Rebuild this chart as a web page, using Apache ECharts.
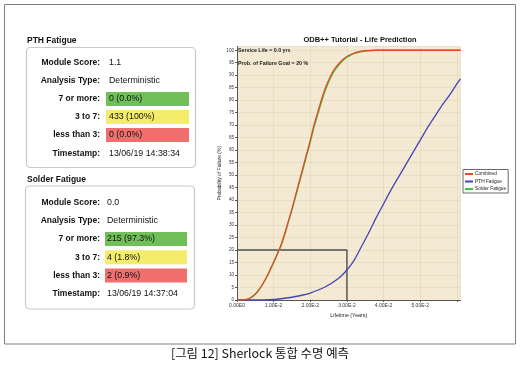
<!DOCTYPE html>
<html><head><meta charset="utf-8">
<script src="https://cdn.jsdelivr.net/npm/echarts@6/dist/echarts.min.js"></script>
<style>html,body{margin:0;padding:0;background:#fff}#c{width:520px;height:374px}</style>
</head><body><div id="c"></div>
<script>
// ---- data ----
const combinedX = [0,0.001,0.002,0.003,0.004,0.005,0.006,0.007,0.008,0.009,0.010,0.011,0.012,0.013,0.014,0.015,0.016,0.017,0.018,0.019,0.020,0.021,0.022,0.023,0.024,0.025,0.026,0.027,0.028,0.029,0.030,0.031,0.032,0.033,0.034,0.036,0.038,0.045,0.061];
const combinedY = [0,0,0.1,0.4,1.2,2.4,4.2,6.4,9,12,15.2,18.5,22,26.5,31.5,36.5,42,47.5,53,58.5,64,70,75,80,84.5,88,91,93.2,95,96.4,97.5,98.3,98.9,99.3,99.6,99.9,100,100,100];
const solderY   = [0,0,0.1,0.4,1.1,2.3,4.0,6.2,8.8,11.7,14.9,18.2,21.6,26,31,36,41.4,46.8,52.2,57.7,63.1,69,74,79,83.5,87.2,90.3,92.6,94.5,96,97.2,98,98.7,99.1,99.5,99.8,100,100,100];
const pthX = [0,0.005,0.010,0.012,0.014,0.016,0.018,0.020,0.022,0.024,0.026,0.028,0.030,0.032,0.034,0.036,0.038,0.040,0.042,0.044,0.046,0.048,0.050,0.052,0.054,0.056,0.058,0.060,0.061];
const pthY = [0,0,0.2,0.5,0.9,1.4,2,2.8,3.9,5.2,6.9,9,12,16,21.5,27,33,38.5,44,49,54,59,64,69,73.5,78,82,86.5,88.5];
const goalPath = [[0,20],[0.03,20],[0.03,0]];
const seriesNames = ['Combined','PTH Fatigue','Solder Fatigue'];
const pthRows = [['Module Score:','1.1'],['Analysis Type:','Deterministic'],['7 or more:','0 (0.0%)'],['3 to 7:','433 (100%)'],['less than 3:','0 (0.0%)'],['Timestamp:','13/06/19 14:38:34']];
const solderRows = [['Module Score:','0.0'],['Analysis Type:','Deterministic'],['7 or more:','215 (97.3%)'],['3 to 7:','4 (1.8%)'],['less than 3:','2 (0.9%)'],['Timestamp:','13/06/19 14:37:04']];

const zip = (xs, ys) => xs.map((x,i)=>[x,ys[i]]);
const F = '"Liberation Sans", Arial, sans-serif';
const rowColors = [null,null,'#70bf58','#f4ec6b','#ef6e6e',null];

function panel(title, rows, titleY, box, rowYs, lblX, valX, cbox) {
  const els = [];
  els.push({type:'text', x:27, y:titleY, style:{text:title, font:'bold 8.5px '+F, fill:'#111', verticalAlign:'middle'}});
  els.push({type:'rect', shape:{x:box[0]+0.5,y:box[1]+0.5,width:box[2],height:box[3],r:4}, style:{fill:'#fff',stroke:'#c9c9c9',lineWidth:1.2}});
  rows.forEach((r,i)=>{
    const y = rowYs[i];
    if (rowColors[i]) els.push({type:'rect', shape:{x:cbox[0], y:y-7, width:cbox[1]-cbox[0], height:14}, style:{fill:rowColors[i]}});
    els.push({type:'text', x:lblX, y:y, style:{text:r[0], font:'bold 8.5px '+F, fill:'#111', align:'right', verticalAlign:'middle'}});
    els.push({type:'text', x:valX, y:y, style:{text:r[1], font:'8.8px '+F, fill:'#111', align:'left', verticalAlign:'middle'}});
  });
  return els;
}

const graphics = [
  {type:'rect', shape:{x:4.5,y:4.5,width:511,height:339.5}, style:{fill:'none',stroke:'#7f7f7f',lineWidth:1}, z:-1},
  ...panel('PTH Fatigue', pthRows, 41, [26,47,169,120], [63,81,99,117,135,154], 100, 109, [106,189]),
  ...panel('Solder Fatigue', solderRows, 180, [25,185.5,169,123], [203,221,239,257.3,275.5,294], 100, 107, [105,187]),
  {type:'text', x:260, y:353, style:{text:'[그림 12] Sherlock 통합 수명 예측', font:'12.4px "Noto Sans CJK KR", sans-serif', fill:'#111', align:'center', verticalAlign:'middle'}},
  {type:'text', x:238, y:50.5, style:{text:'Service Life = 0.0 yrs', font:'bold 5.3px '+F, fill:'#222', verticalAlign:'middle'}, z:10},
  {type:'text', x:238, y:63.5, style:{text:'Prob. of Failure Goal = 20 %', font:'bold 5.3px '+F, fill:'#222', verticalAlign:'middle'}, z:10},
  {type:'text', x:360, y:40, style:{text:'ODB++ Tutorial - Life Prediction', font:'bold 7.5px '+F, fill:'#111', align:'center', verticalAlign:'middle'}}
];

const chart = echarts.init(document.getElementById('c'), null, {renderer:'canvas'});
chart.setOption({
  animation:false,
  backgroundColor:'#fff',
  graphic: graphics,
  grid:{left:237, right:59.5, top:46.5, bottom:74, show:true, backgroundColor:'#f4ead3', borderWidth:0},
  legend:{
    data: seriesNames, orient:'vertical', left:463, top:169.5,
    itemWidth:8, itemHeight:2, itemGap:2.5, icon:'rect',
    padding:[2,2,1.5,2], borderColor:'#444', borderWidth:0.8, backgroundColor:'#fff',
    textStyle:{fontSize:4.8, fontFamily:F, color:'#222', padding:[0,0,0,-3]}
  },
  xAxis:{
    type:'value', min:0, max:0.061, interval:0.01,
    name:'Lifetime (Years)', nameLocation:'middle', nameGap:11,
    nameTextStyle:{fontSize:5.3, fontFamily:F, color:'#222'},
    axisLine:{lineStyle:{color:'#555', width:1}},
    axisTick:{show:true, length:2, lineStyle:{color:'#555'}},
    axisLabel:{fontSize:5, fontFamily:F, color:'#333', margin:3, showMaxLabel:false,
      formatter: v => v > 0.055 ? '' : v.toExponential(2).replace('e','E').replace('+','')},
    splitLine:{show:true, lineStyle:{color:'#e3d8be', width:0.7}}
  },
  yAxis:{
    type:'value', min:0, max:101.5, interval:5,
    name:'Probability of Failure (%)', nameLocation:'middle', nameGap:10, nameRotate:90,
    nameTextStyle:{fontSize:5, fontFamily:F, color:'#222'},
    axisLine:{show:true, lineStyle:{color:'#555', width:1}},
    axisTick:{show:true, length:2, lineStyle:{color:'#555'}},
    axisLabel:{fontSize:4.6, fontFamily:F, color:'#333', margin:3, showMaxLabel:false},
    splitLine:{show:true, lineStyle:{color:'#e3d8be', width:0.7}}
  },
  series:[
    {name:'Goal', type:'line', data: goalPath, symbol:'none', lineStyle:{color:'#505050', width:1.4}, z:1},
    {name:'Solder Fatigue', type:'line', data: zip(combinedX, solderY), symbol:'none', smooth:0.3, lineStyle:{color:'#3fc43a', width:1.3}, itemStyle:{color:'#3fc43a'}, z:2},
    {name:'PTH Fatigue', type:'line', data: zip(pthX, pthY), symbol:'none', smooth:0.2, lineStyle:{color:'#4444b8', width:1.3}, itemStyle:{color:'#4444b8'}, z:3},
    {name:'Combined', type:'line', data: zip(combinedX, combinedY), symbol:'none', smooth:0.3, lineStyle:{color:'#e34a2a', width:1.3}, itemStyle:{color:'#e34a2a'}, z:4}
  ]
});
</script></body></html>
